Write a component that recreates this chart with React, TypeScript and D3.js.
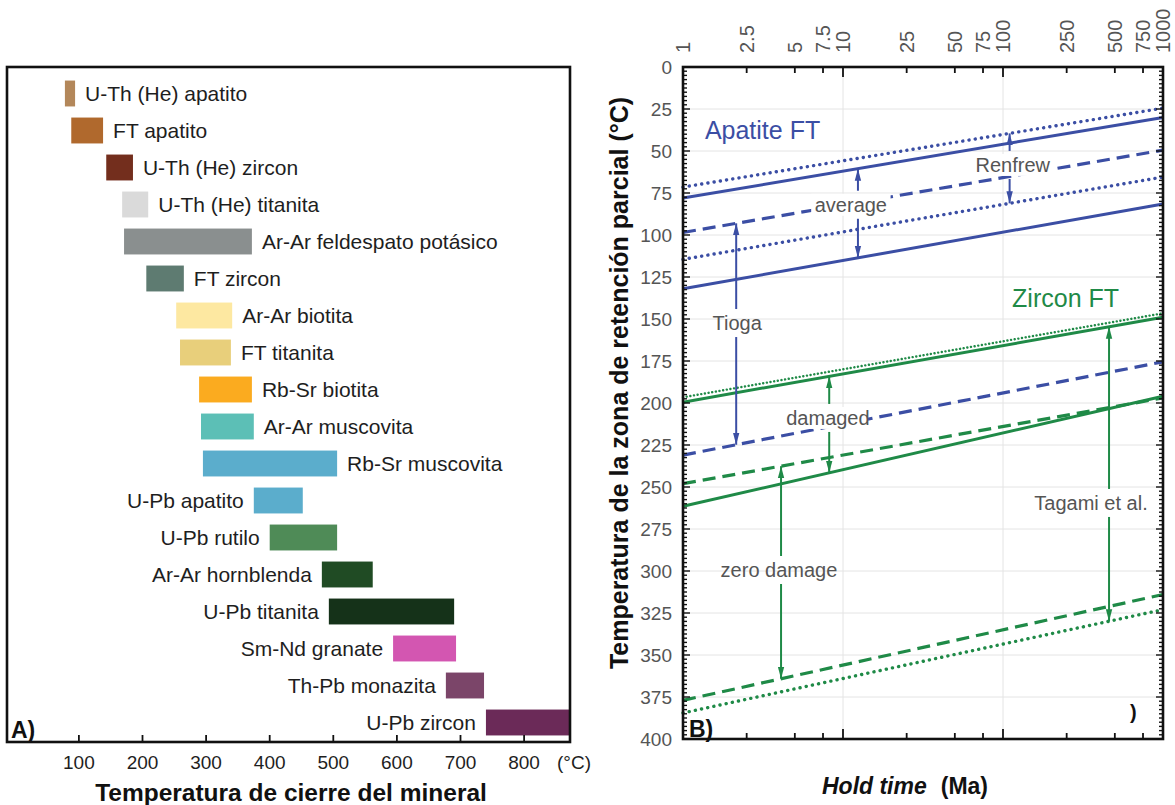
import React from 'react';
import * as d3 from 'd3';

// ---------- Panel A data ----------
const minerals = [
  'U-Th (He) apatito', 'FT apatito', 'U-Th (He) zircon', 'U-Th (He) titanita',
  'Ar-Ar feldespato potásico', 'FT zircon', 'Ar-Ar biotita', 'FT titanita',
  'Rb-Sr biotita', 'Ar-Ar muscovita', 'Rb-Sr muscovita', 'U-Pb apatito',
  'U-Pb rutilo', 'Ar-Ar hornblenda', 'U-Pb titanita', 'Sm-Nd granate',
  'Th-Pb monazita', 'U-Pb zircon',
];
const closureMin = [78, 88, 143, 168, 171, 206, 253, 259, 289, 292, 295, 375, 400, 482, 493, 594, 677, 740];
const closureMax = [94, 138, 185, 209, 372, 265, 341, 339, 372, 375, 506, 452, 506, 562, 690, 693, 737, 871];
const mineralColors = [
  '#b3875a', '#b0692d', '#732e1d', '#dadada', '#8a8f8f', '#5e7b71', '#fde8a1', '#e8cf7b',
  '#fbab1f', '#5cbfb6', '#5badcc', '#5badcc', '#4f8b57', '#204b24', '#153219', '#d356b1',
  '#7b4569', '#6b2a58',
];
const labelSide = ['r', 'r', 'r', 'r', 'r', 'r', 'r', 'r', 'r', 'r', 'r', 'l', 'l', 'l', 'l', 'l', 'l', 'l'];
const closureTicks = [100, 200, 300, 400, 500, 600, 700, 800];

// ---------- Panel B data ----------
const holdTimeEnds = [1, 1000];
const holdTimeTicks = [1, 2.5, 5, 7.5, 10, 25, 50, 75, 100, 250, 500, 750, 1000];
const holdTimeMajor = [1, 10, 100, 1000];
const przTicks = d3.range(0, 401, 25);

// temperatures (°C) at 1 Ma and 1000 Ma
const apatiteDottedUpper = [71.5, 24.5];
const apatiteSolidUpper = [78, 30];
const apatiteDashed = [98.5, 49.5];
const apatiteDottedLower = [114.5, 65.5];
const apatiteSolidLower = [132, 81.5];
const apatiteDashedDamaged = [231, 175.5];
const zirconDottedUpper = [197.5, 147.5];
const zirconSolidUpper = [199.5, 149];
const zirconDashed = [248, 197];
const zirconSolidLower = [261.5, 196];
const zirconDashedLower = [377, 314];
const zirconDottedLower = [384.5, 323];

const annLabels = ['average', 'Renfrew', 'Tioga', 'damaged', 'zero damage', 'Tagami et al.'];
const annLabelTime = [11.2, 115, 2.18, 8.05, 3.98, 355];
const annLabelTemp = [82, 58.3, 152.4, 208.9, 299.4, 259.5];
const annArrowTime = [12.4, 110, 2.15, 8.2, 4.1, 460];

const BLUE = '#3b4ea4';
const GREEN = '#1f8a47';
const FONT = '"Liberation Sans", Arial, Helvetica, sans-serif';

type Series = { vals: number[]; color: string; style: 'solid' | 'dashed' | 'dotted' | 'fine' };
const series: Record<string, Series> = {
  aDU: { vals: apatiteDottedUpper, color: BLUE, style: 'dotted' },
  aSU: { vals: apatiteSolidUpper, color: BLUE, style: 'solid' },
  aD: { vals: apatiteDashed, color: BLUE, style: 'dashed' },
  aDL: { vals: apatiteDottedLower, color: BLUE, style: 'dotted' },
  aSL: { vals: apatiteSolidLower, color: BLUE, style: 'solid' },
  aDD: { vals: apatiteDashedDamaged, color: BLUE, style: 'dashed' },
  zDU: { vals: zirconDottedUpper, color: GREEN, style: 'fine' },
  zSU: { vals: zirconSolidUpper, color: GREEN, style: 'solid' },
  zD: { vals: zirconDashed, color: GREEN, style: 'dashed' },
  zSL: { vals: zirconSolidLower, color: GREEN, style: 'solid' },
  zDLo: { vals: zirconDashedLower, color: GREEN, style: 'dashed' },
  zDtL: { vals: zirconDottedLower, color: GREEN, style: 'dotted' },
};
const annUp = ['aSU', 'aDU', 'aD', 'zSU', 'zD', 'zSU'];
const annDown = ['aSL', 'aDL', 'aDD', 'zSL', 'zDLo', 'zDtL'];
const annColor = [BLUE, BLUE, BLUE, GREEN, GREEN, GREEN];
const annMasked = [true, true, false, true, false, false];

function tempAt(key: string, t: number) {
  const [a, b] = series[key].vals;
  const f = Math.log10(t) / Math.log10(holdTimeEnds[1]);
  return a + (b - a) * f;
}

export default function App() {
  // Panel A scales
  const xA = d3.scaleLinear().domain([100, 800]).range([78.9, 524.1]);
  const yA = d3.scaleBand<string>().domain(minerals).range([75, 741]).paddingInner(0.3).paddingOuter(0.15);
  const frameA = { x0: 7, x1: 570, y0: 67, y1: 742 };

  // Panel B scales
  const xB = d3.scaleLog().domain([1, 1000]).range([683, 1163]);
  const yB = d3.scaleLinear().domain([0, 400]).range([67, 739]);
  const lineGen = d3.line<[number, number]>().x(d => xB(d[0])).y(d => yB(d[1]));

  const minorY = d3.range(0, 400.01, 2.5);

  const styleProps = (s: Series['style']) => {
    if (s === 'solid') return { strokeWidth: 3 };
    if (s === 'dashed') return { strokeWidth: 3.2, strokeDasharray: '13 7' };
    if (s === 'dotted') return { strokeWidth: 3.4, strokeDasharray: '0.1 6.2', strokeLinecap: 'round' as const };
    return { strokeWidth: 2.4, strokeDasharray: '0.1 3.6', strokeLinecap: 'round' as const };
  };

  return (
    <svg width={1175} height={805} style={{ position: 'absolute', left: 0, top: 0, background: '#fff' }} fontFamily={FONT}>
      <defs>
        <marker id="arB" markerUnits="userSpaceOnUse" markerWidth={13} markerHeight={8} refX={12} refY={4} orient="auto">
          <path d="M0,0.8 L12,4 L0,7.2 Z" fill={BLUE} />
        </marker>
        <marker id="arG" markerUnits="userSpaceOnUse" markerWidth={13} markerHeight={8} refX={12} refY={4} orient="auto">
          <path d="M0,0.8 L12,4 L0,7.2 Z" fill={GREEN} />
        </marker>
      </defs>
      <rect x={0} y={0} width={1175} height={805} fill="#fff" />

      {/* ================= Panel A ================= */}
      <g>
        {minerals.map((m, i) => {
          const y = yA(m)!;
          const bw = yA.bandwidth();
          const x0 = xA(closureMin[i]);
          const x1 = xA(closureMax[i]);
          const right = labelSide[i] === 'r';
          return (
            <g key={m}>
              <rect x={x0} y={y} width={x1 - x0} height={bw} fill={mineralColors[i]} />
              <text x={right ? x1 + 10 : x0 - 10} y={y + bw / 2} dy="0.35em" fontSize={21}
                textAnchor={right ? 'start' : 'end'} fill="#1e1e1e">{m}</text>
            </g>
          );
        })}
        <rect x={frameA.x0} y={frameA.y0} width={frameA.x1 - frameA.x0} height={frameA.y1 - frameA.y0}
          fill="none" stroke="#111" strokeWidth={2.6} />
        {closureTicks.map(t => (
          <g key={t}>
            <line x1={xA(t)} x2={xA(t)} y1={frameA.y1} y2={frameA.y1 - 7} stroke="#111" strokeWidth={1.8} />
            <text x={xA(t)} y={frameA.y1 + 20} dy="0.35em" fontSize={19} textAnchor="middle" fill="#1e1e1e">{t}</text>
          </g>
        ))}
        <text x={557} y={frameA.y1 + 20} dy="0.35em" fontSize={19} fill="#1e1e1e">(°C)</text>
        <text x={11} y={738} fontSize={23} fontWeight="bold" fill="#111">A)</text>
        <text x={291} y={801} fontSize={24.5} fontWeight="bold" textAnchor="middle" fill="#111">
          Temperatura de cierre del mineral
        </text>
      </g>

      {/* ================= Panel B ================= */}
      <g>
        {/* gridlines */}
        {przTicks.slice(1, -1).map(t => (
          <line key={'gy' + t} x1={xB(1)} x2={xB(1000)} y1={yB(t)} y2={yB(t)} stroke="#e4e4e4" strokeWidth={1} />
        ))}
        {[10, 100].map(t => (
          <line key={'gx' + t} x1={xB(t)} x2={xB(t)} y1={yB(0)} y2={yB(400)} stroke="#e4e4e4" strokeWidth={1} />
        ))}

        {/* series */}
        {Object.entries(series).map(([k, s]) => (
          <path key={k}
            d={lineGen([[holdTimeEnds[0], s.vals[0]], [holdTimeEnds[1], s.vals[1]]])!}
            fill="none" stroke={s.color} {...styleProps(s.style)}
            transform={s.style === 'fine' ? 'translate(0,-1.5)' : undefined} />
        ))}

        {/* annotations */}
        {annLabels.map((lab, i) => {
          const xl = xB(annLabelTime[i]);
          const yl = yB(annLabelTemp[i]);
          const xa = xB(annArrowTime[i]);
          const yUp = yB(tempAt(annUp[i], annArrowTime[i]));
          const yDn = yB(tempAt(annDown[i], annArrowTime[i]));
          const w = lab.length * 10.2;
          const mk = annColor[i] === BLUE ? 'url(#arB)' : 'url(#arG)';
          return (
            <g key={lab}>
              {annMasked[i] && <rect x={xl - w / 2 - 4} y={yl - 11} width={w + 8} height={22} fill="#fff" />}
              <line x1={xa} x2={xa} y1={yl - 14} y2={yUp} stroke={annColor[i]} strokeWidth={2} markerEnd={mk} />
              <line x1={xa} x2={xa} y1={yl + 14} y2={yDn} stroke={annColor[i]} strokeWidth={2} markerEnd={mk} />
              {annMasked[i] && <rect x={xl - w / 2 - 1} y={yl - 10} width={w + 2} height={20} fill="#fff" />}
              <text x={xl} y={yl} dy="0.35em" fontSize={20} textAnchor="middle" fill="#555">{lab}</text>
            </g>
          );
        })}

        <text x={xB(1.37)} y={yB(43)} fontSize={25} fill={BLUE}>Apatite FT</text>
        <text x={xB(114)} y={yB(143)} fontSize={25} fill={GREEN}>Zircon FT</text>

        {/* frame */}
        <rect x={xB(1)} y={yB(0)} width={xB(1000) - xB(1)} height={yB(400) - yB(0)} fill="none" stroke="#111" strokeWidth={2.6} />

        {/* left/right minor ticks */}
        {minorY.map(t => {
          const major = Math.abs(t % 25) < 1e-6;
          const len = major ? 7 : 4;
          return (
            <g key={'ty' + t}>
              <line x1={xB(1)} x2={xB(1) + len} y1={yB(t)} y2={yB(t)} stroke="#111" strokeWidth={1.4} />
              <line x1={xB(1000)} x2={xB(1000) - len} y1={yB(t)} y2={yB(t)} stroke="#111" strokeWidth={1.4} />
            </g>
          );
        })}
        {/* top/bottom ticks */}
        {holdTimeTicks.map(t => {
          const len = holdTimeMajor.includes(t) ? 10 : 6;
          return (
            <g key={'tx' + t}>
              <line x1={xB(t)} x2={xB(t)} y1={yB(0)} y2={yB(0) + len} stroke="#111" strokeWidth={1.8} />
              <line x1={xB(t)} x2={xB(t)} y1={yB(400)} y2={yB(400) - len} stroke="#111" strokeWidth={1.8} />
              <text transform={`translate(${xB(t)},${yB(0) - 14}) rotate(-90)`} dy="0.35em" fontSize={20} fill="#555">{t}</text>
            </g>
          );
        })}
        {przTicks.map(t => (
          <text key={'ly' + t} x={672} y={yB(t)} dy="0.35em" fontSize={19} textAnchor="end" fill="#555">{t}</text>
        ))}

        <text x={689} y={737} fontSize={23} fontWeight="bold" fill="#111">B)</text>
        <text x={1130} y={719} fontSize={20} fontWeight="bold" fill="#111">)</text>

        <text transform="translate(619,383) rotate(-90)" dy="0.35em" fontSize={25} fontWeight="bold" textAnchor="middle" fill="#111">
          Temperatura de la zona de retención parcial (°C)
        </text>
        <text x={905} y={794} fontSize={23} fontWeight="bold" textAnchor="middle" fill="#111">
          <tspan fontStyle="italic">Hold time</tspan>
          <tspan dx={14}>(Ma)</tspan>
        </text>
      </g>
    </svg>
  );
}
